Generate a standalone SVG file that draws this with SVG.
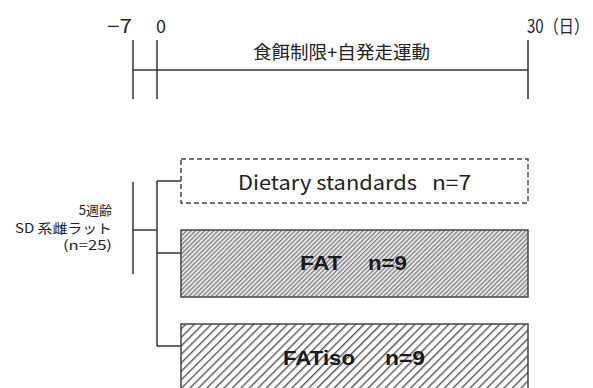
<svg xmlns="http://www.w3.org/2000/svg" width="593" height="388" viewBox="0 0 593 388">
<defs>
<pattern id="dense" patternUnits="userSpaceOnUse" width="3.2" height="3.2" patternTransform="rotate(-45)">
<rect width="3.2" height="3.2" fill="#e8e8e8"/>
<rect width="3.2" height="1.2" fill="#7a7a7a"/>
</pattern>
<pattern id="sparse" patternUnits="userSpaceOnUse" width="6" height="6" patternTransform="rotate(-45)">
<rect width="6" height="6" fill="#fff"/>
<rect width="6" height="1.4" fill="#555"/>
</pattern>
</defs>
<style>
.ln{stroke:#333;stroke-width:1.5;fill:none}
.t{font-family:"Noto Sans CJK JP","Noto Sans",sans-serif;fill:#222}
.b{font-family:"Liberation Sans",Arial,sans-serif;font-weight:bold;fill:#1a1a1a}
.box{stroke:#444;stroke-width:1.5}
</style>
<g id="timeline">
<text class="t" x="107" y="33" font-size="18" textLength="25" lengthAdjust="spacingAndGlyphs">−7</text>
<text class="t" x="156" y="33" font-size="18">0</text>
<text class="t" x="527" y="33" font-size="18" textLength="62" lengthAdjust="spacingAndGlyphs">30（日）</text>
<text class="t" x="253" y="59" font-size="18" textLength="177" lengthAdjust="spacingAndGlyphs">食餌制限+自発走運動</text>
</g>
<g id="connectors">
<line class="ln" x1="133" y1="40" x2="133" y2="99"/>
<line class="ln" x1="157" y1="40" x2="157" y2="99"/>
<line class="ln" x1="528" y1="40" x2="528" y2="99"/>
<line class="ln" x1="133" y1="70" x2="528" y2="70"/>
<line class="ln" x1="133" y1="182" x2="133" y2="274"/>
<line class="ln" x1="133" y1="230" x2="157" y2="230"/>
<line class="ln" x1="157" y1="181" x2="157" y2="346"/>
<line class="ln" x1="157" y1="181" x2="181" y2="181"/>
<line class="ln" x1="157" y1="253" x2="181" y2="253"/>
<line class="ln" x1="157" y1="346" x2="181" y2="346"/>
</g>
<g id="source">
<text class="t" x="112" y="215" font-size="13" text-anchor="end">5週齢</text>
<text class="t" x="112" y="233" font-size="13" text-anchor="end" textLength="97" lengthAdjust="spacingAndGlyphs">SD 系雌ラット</text>
<text class="t" x="112" y="250" font-size="13" text-anchor="end" textLength="49" lengthAdjust="spacingAndGlyphs">(n=25)</text>
</g>
<g id="dietary">
<rect x="181" y="159" width="347" height="44" fill="#fff" stroke="#444" stroke-width="1.5" stroke-dasharray="5,3"/>
<text class="t" x="238" y="190" font-size="20" textLength="179" lengthAdjust="spacingAndGlyphs">Dietary standards</text>
<text class="t" x="432" y="190" font-size="20" textLength="39" lengthAdjust="spacingAndGlyphs">n=7</text>
</g>
<g id="fat">
<rect class="box" x="181" y="230" width="347" height="67" fill="url(#dense)"/>
<text class="b" x="300" y="270" font-size="21" textLength="42" lengthAdjust="spacingAndGlyphs">FAT</text>
<text class="b" x="368" y="270" font-size="21" textLength="39" lengthAdjust="spacingAndGlyphs">n=9</text>
</g>
<g id="fatiso">
<rect class="box" x="181" y="324" width="347" height="70" fill="url(#sparse)"/>
<text class="b" x="283" y="365" font-size="21" textLength="72" lengthAdjust="spacingAndGlyphs">FATiso</text>
<text class="b" x="385" y="365" font-size="21" textLength="40" lengthAdjust="spacingAndGlyphs">n=9</text>
</g>
</svg>
